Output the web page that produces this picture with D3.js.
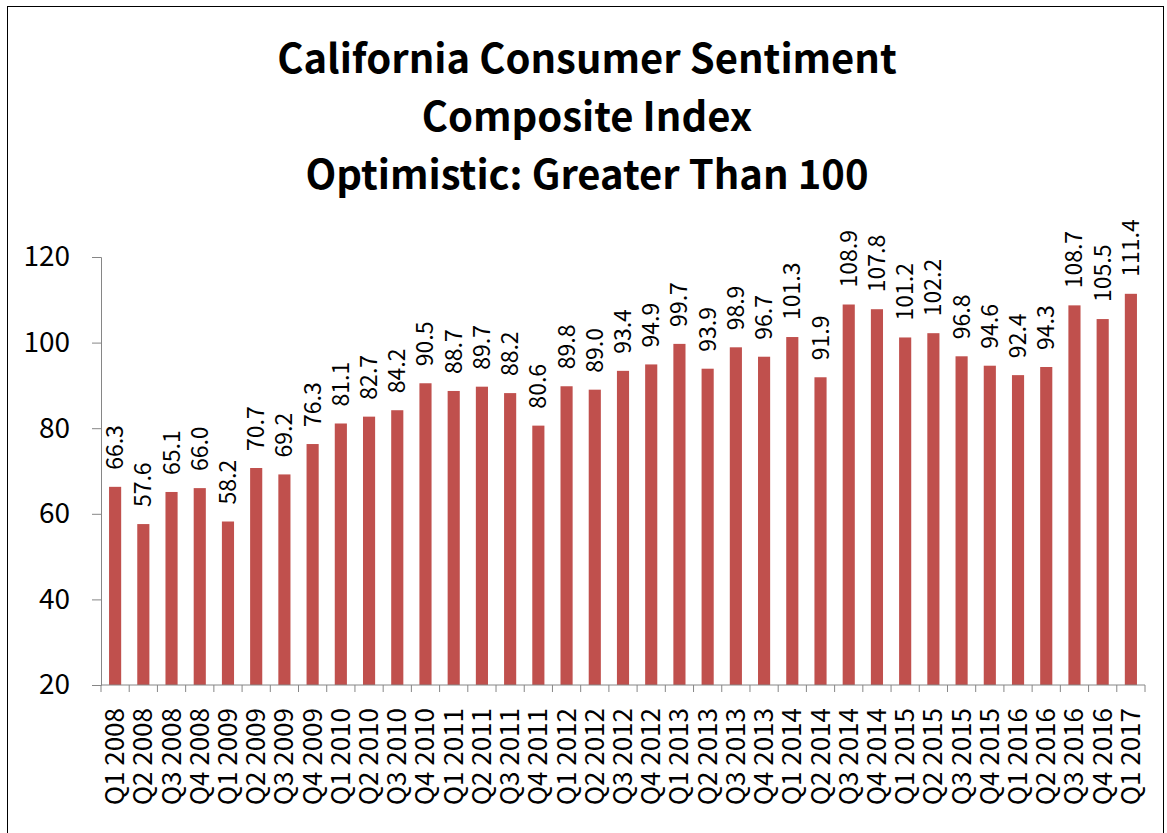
<!DOCTYPE html>
<html><head><meta charset="utf-8">
<script src="https://cdn.jsdelivr.net/npm/d3@7"></script>
<style>body{margin:0;background:#fff}svg{display:block}</style>
</head><body>
<svg id="c" width="1167" height="833"></svg>
<script>
const categories = ["Q1 2008","Q2 2008","Q3 2008","Q4 2008","Q1 2009","Q2 2009","Q3 2009","Q4 2009","Q1 2010","Q2 2010","Q3 2010","Q4 2010","Q1 2011","Q2 2011","Q3 2011","Q4 2011","Q1 2012","Q2 2012","Q3 2012","Q4 2012","Q1 2013","Q2 2013","Q3 2013","Q4 2013","Q1 2014","Q2 2014","Q3 2014","Q4 2014","Q1 2015","Q2 2015","Q3 2015","Q4 2015","Q1 2016","Q2 2016","Q3 2016","Q4 2016","Q1 2017"];
const values = [66.3,57.6,65.1,66.0,58.2,70.7,69.2,76.3,81.1,82.7,84.2,90.5,88.7,89.7,88.2,80.6,89.8,89.0,93.4,94.9,99.7,93.9,98.9,96.7,101.3,91.9,108.9,107.8,101.2,102.2,96.8,94.6,92.4,94.3,108.7,105.5,111.4];
const yTicks = [20,40,60,80,100,120];
const titleLines = ["California Consumer Sentiment","Composite Index","Optimistic: Greater Than 100"];

(function(){
const svg = d3.select("#c");
svg.append("rect").attr("x",7.5).attr("y",6.5).attr("width",1156).attr("height",830)
  .attr("fill","none").attr("stroke","#000").attr("stroke-width",1);

const pL=101, pR=1145, pT=257, pB=685;
const x = d3.scaleBand().domain(categories).range([pL,pR]).paddingInner(0.57).paddingOuter(0.285);
const y = d3.scaleLinear().domain([20,120]).range([pB,pT]);

const font = "'Noto Sans CJK JP', 'Noto Sans', sans-serif";

svg.selectAll("text.title").data(titleLines).join("text").attr("class","title")
  .attr("x",587).attr("y",(d,i)=>73+i*58).attr("text-anchor","middle")
  .attr("font-family",font).attr("font-weight","bold").attr("font-size",40)
  .attr("fill","#000").text(d=>d);

svg.selectAll("rect.bar").data(values).join("rect").attr("class","bar")
  .attr("x",(d,i)=>x(categories[i])).attr("width",x.bandwidth())
  .attr("y",d=>y(d)).attr("height",d=>pB-y(d)).attr("fill","#C0504D");

svg.selectAll("text.val").data(values).join("text").attr("class","val")
  .attr("transform",(d,i)=>`translate(${x(categories[i])+x.bandwidth()/2+8},${y(d)-17}) rotate(-90)`)
  .attr("font-family",font).attr("font-size",23).attr("fill","#000")
  .text(d=>d.toFixed(1));

const yAxis = d3.axisLeft(y).tickValues(yTicks).tickSize(9).tickPadding(22);
const gy = svg.append("g").attr("transform",`translate(${pL},0)`).call(yAxis);
gy.select(".domain").attr("stroke","#868686");
gy.selectAll(".tick line").attr("stroke","#868686");
gy.selectAll(".tick text").attr("font-family",font).attr("font-size",28).attr("fill","#000");

const gx = svg.append("g").attr("transform",`translate(0,${pB})`);
gx.append("line").attr("x1",pL).attr("x2",pR).attr("y1",0).attr("y2",0).attr("stroke","#868686");
const bounds = d3.range(categories.length+1).map(i=>pL+i*x.step());
gx.selectAll("line.t").data(bounds).join("line").attr("class","t")
  .attr("x1",d=>d).attr("x2",d=>d).attr("y1",0).attr("y2",7).attr("stroke","#868686");
gx.selectAll("text").data(categories).join("text")
  .attr("transform",d=>`translate(${x(d)+x.bandwidth()/2+9},${23}) rotate(-90)`)
  .attr("text-anchor","end").attr("font-family",font).attr("font-size",26).attr("fill","#000")
  .text(d=>d);
})();
</script>
</body></html>
